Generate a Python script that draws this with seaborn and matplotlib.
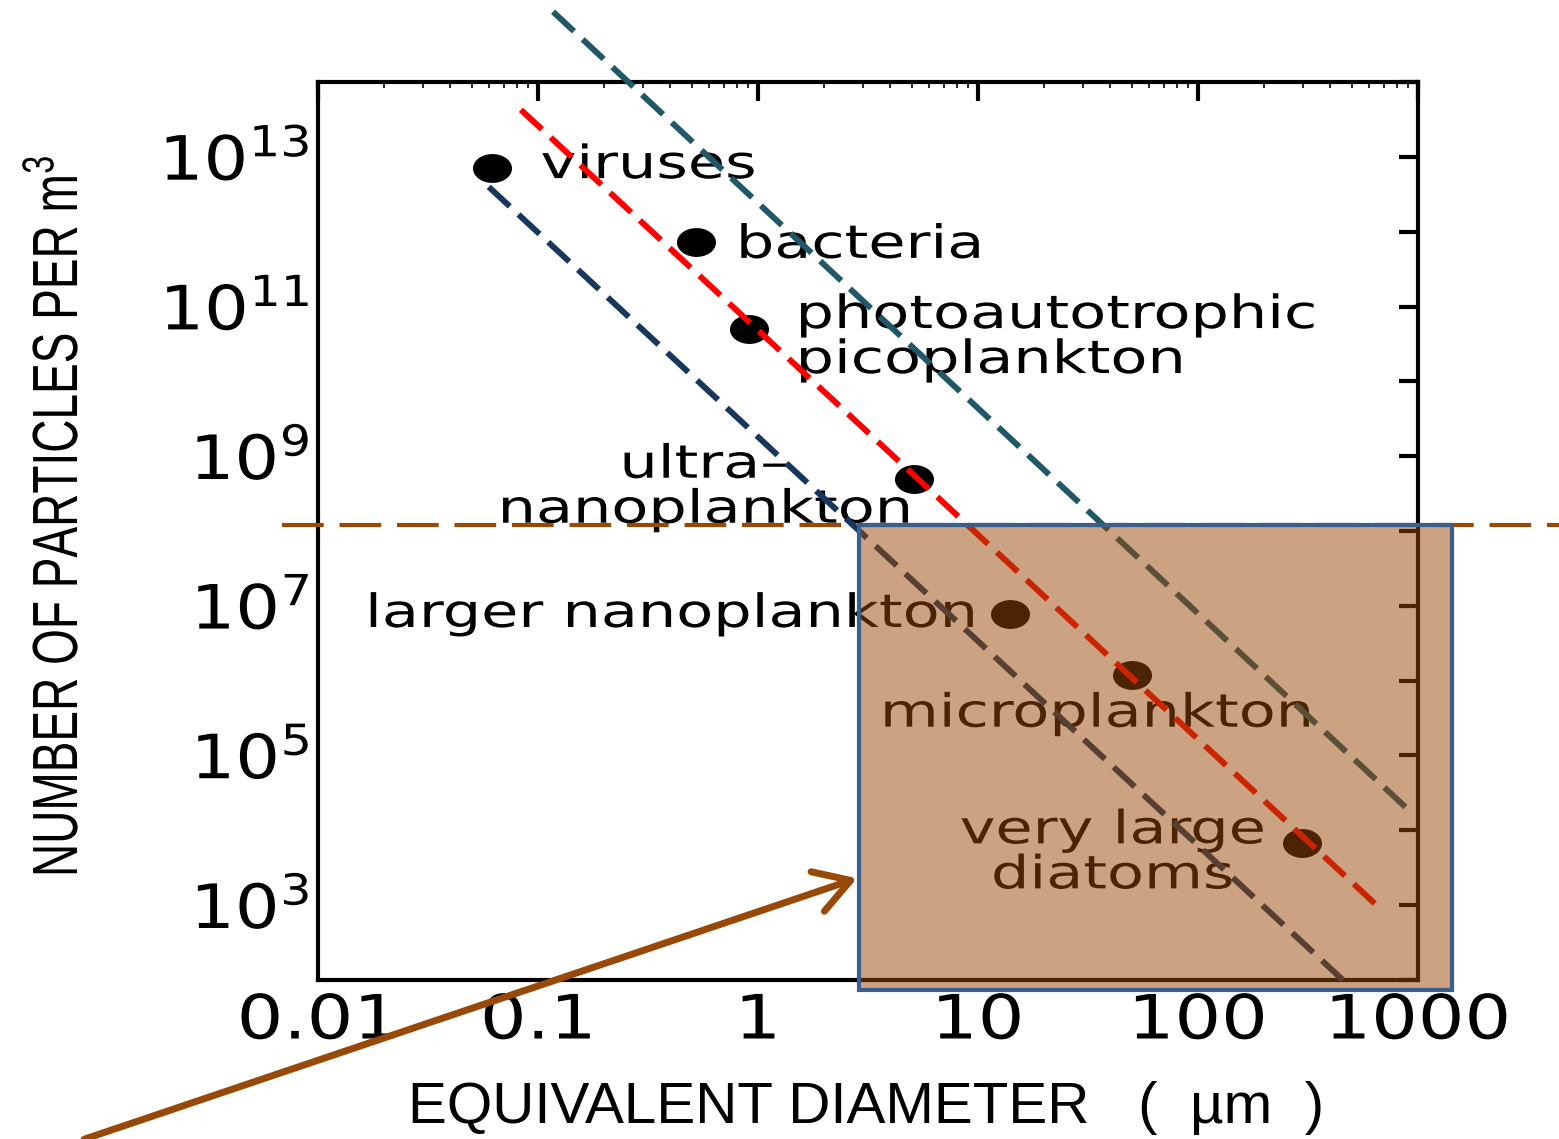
import numpy as np
import pandas as pd
import matplotlib
matplotlib.use("Agg")
import matplotlib.pyplot as plt
import seaborn as sns
from matplotlib.path import Path
from matplotlib.transforms import Affine2D
from matplotlib.patches import Rectangle
from matplotlib.patheffects import AbstractPathEffect
from matplotlib.ticker import FixedLocator, FuncFormatter, LogLocator, NullFormatter

# ---- data -------------------------------------------------------------
groups = ["viruses", "bacteria", "photoautotrophic\npicoplankton",
          "ultra\u2013\nnanoplankton", "larger nanoplankton",
          "microplankton", "very large\ndiatoms"]
diameter_um = [0.062, 0.52, 0.91, 5.1, 14.0, 50.0, 296.0]
particles_per_m3 = [7.0e12, 7.3e11, 5.0e10, 5.0e8, 7.8e6, 1.2e6, 6.7e3]

# dashed size-spectrum lines: (start, end) in data units
upper_x, upper_y = [0.117, 960.0], [8.7e14, 1.6e4]
middle_x, middle_y = [0.0836, 686.0], [4.25e13, 857.0]
lower_x, lower_y = [0.0597, 484.0], [3.97e12, 85.0]

# horizontal threshold and the highlighted region
threshold_x = [0.00686, 4570.0]
threshold_y = [1.2e8, 1.2e8]
box_x = [2.88, 1430.0]
box_y = [73.0, 1.2e8]
arrow_start = (8.65e-4, 0.745)
arrow_end = (2.82, 2290.0)

x_ticks = [0.01, 0.1, 1, 10, 100, 1000]
x_tick_labels = ["0.01", "0.1", "1", "10", "100", "1000"]
y_exponents = list(range(2, 15))


class Stretch(AbstractPathEffect):
    """Scale glyph outlines along the text direction about a fixed edge."""

    def __init__(self, sx=1.0, sy=1.0, anchor="left"):
        super().__init__()
        self.sx, self.sy, self.anchor = sx, sy, anchor

    def draw_path(self, renderer, gc, tpath, affine, rgbFace=None):
        ext = tpath.get_extents()
        if self.anchor == "center":
            cx = 0.5 * (ext.x0 + ext.x1)
        elif self.anchor == "right":
            cx = ext.x1
        else:
            cx = ext.x0
        t = Affine2D().translate(-cx, 0).scale(self.sx, self.sy).translate(cx, 0)
        renderer.draw_path(gc, tpath, t + affine, rgbFace)


# ---- style ------------------------------------------------------------
sns.set_style("white")
plt.rcParams["font.family"] = ["DejaVu Sans"]
plt.rcParams["mathtext.default"] = "regular"
for key in ["text.color", "axes.labelcolor", "xtick.color", "ytick.color",
            "axes.edgecolor"]:
    plt.rcParams[key] = "black"

BROWN = "#984807"
LABEL_SX = 1.32
fig = plt.figure(figsize=(15.59, 11.39), dpi=100)
ax = fig.add_axes([0.204, 0.1396, 0.7055, 0.7884])
ax.set_xscale("log")
ax.set_yscale("log")

# ---- points -----------------------------------------------------------
ellipse = Affine2D().scale(1.0, 0.74).transform_path(Path.unit_circle())
df = pd.DataFrame({"group": groups, "d": diameter_um, "n": particles_per_m3})
sns.scatterplot(data=df, x="d", y="n", ax=ax, marker=ellipse, s=790,
                color="black", linewidth=0, zorder=3, legend=False)

# labels: (dx, dy) offsets in points to the last line's baseline
label_layout = [(35, -7, "left"), (30, -11.5, "left"), (34.5, -31.7, "left"),
                (-150, -31.7, "center"), (-24, -9.4, "right"),
                (-25, -37.4, "center"), (-136, -32.4, "center")]
for g, xv, yv, (dx, dy, ha) in zip(groups, diameter_um, particles_per_m3, label_layout):
    t = ax.annotate(g, (xv, yv), xytext=(dx, dy), textcoords="offset points",
                    ha=ha, va="baseline", fontsize=33, linespacing=1.0,
                    color="black", zorder=3, annotation_clip=False)
    t.set_path_effects([Stretch(LABEL_SX, 1.0, ha)])

# ---- dashed lines -----------------------------------------------------
for lx, ly, col in [(upper_x, upper_y, "#215868"),
                    (middle_x, middle_y, "#FF0000"),
                    (lower_x, lower_y, "#17375E")]:
    sns.lineplot(x=lx, y=ly, ax=ax, color=col, lw=4.3,
                 linestyle=(0, (4.8, 2.0)), clip_on=False, zorder=5,
                 sort=False, estimator=None)

sns.lineplot(x=threshold_x, y=threshold_y, ax=ax, color=BROWN, lw=3,
             linestyle=(0, (10.0, 3.8)), clip_on=False, zorder=5,
             sort=False, estimator=None)

# ---- highlighted region ----------------------------------------------
r, g_, b = matplotlib.colors.to_rgb(BROWN)
ax.add_patch(Rectangle((box_x[0], box_y[0]), box_x[1] - box_x[0], box_y[1] - box_y[0],
                       facecolor=(r, g_, b, 0.5), edgecolor="#3A5F8B", lw=3,
                       clip_on=False, zorder=10))

arr = ax.annotate("", xy=arrow_end, xytext=arrow_start, xycoords="data",
                  arrowprops=dict(arrowstyle="->,head_length=0.5,head_width=0.3",
                                  lw=5, color=BROWN, mutation_scale=50,
                                  shrinkA=0, shrinkB=0),
                  annotation_clip=False, zorder=11)
arr.arrow_patch.set_clip_on(False)

# ---- axes -------------------------------------------------------------
ax.set_xlim(0.01, 1000)
ax.set_ylim(1e2, 1e14)

ax.xaxis.set_major_locator(FixedLocator(x_ticks))
ax.set_xticklabels(x_tick_labels)
ax.xaxis.set_minor_locator(LogLocator(base=10, subs=np.arange(2, 10)))
ax.xaxis.set_minor_formatter(NullFormatter())

ax.yaxis.set_major_locator(FixedLocator([10.0 ** k for k in y_exponents]))
ax.yaxis.set_minor_locator(FixedLocator([]))


def y_label(v, pos):
    k = int(round(np.log10(v)))
    return rf"$10^{{{k}}}$" if k % 2 == 1 else ""


ax.yaxis.set_major_formatter(FuncFormatter(y_label))

for s in ax.spines.values():
    s.set_linewidth(3)
    s.set_color("black")
    s.set_visible(True)

ax.tick_params(which="major", direction="in", top=True, right=True,
               length=14, width=3, color="black", labelsize=44,
               labelcolor="black")
ax.tick_params(axis="x", which="major", pad=9)
ax.tick_params(axis="y", which="major", pad=6)
ax.tick_params(axis="x", which="minor", direction="in", top=True,
               length=4, width=1.2, color="black")

for tk in ax.xaxis.get_major_ticks():
    tk.label1.set_path_effects([Stretch(1.2, 1.0, "center")])
for tk in ax.yaxis.get_major_ticks():
    tk.label1.set_path_effects([Stretch(1.15, 1.0, "right")])

ax.set_xlabel("EQUIVALENT DIAMETER   (  \u00b5m  )", family="Liberation Sans",
              fontsize=42, color="black")
ax.xaxis.set_label_coords(0.498, -0.112)
ax.xaxis.label.set_verticalalignment("top")

ylab = ax.set_ylabel(r"NUMBER OF PARTICLES PER m$^{3}$", family="Liberation Sans",
                     fontsize=46, color="black")
ax.yaxis.set_label_coords(-0.2345, 0.5156)
ylab.set_verticalalignment("center")
ylab.set_path_effects([Stretch(0.72, 1.0, "center")])

fig.savefig("out.png", dpi=100, facecolor="white")
